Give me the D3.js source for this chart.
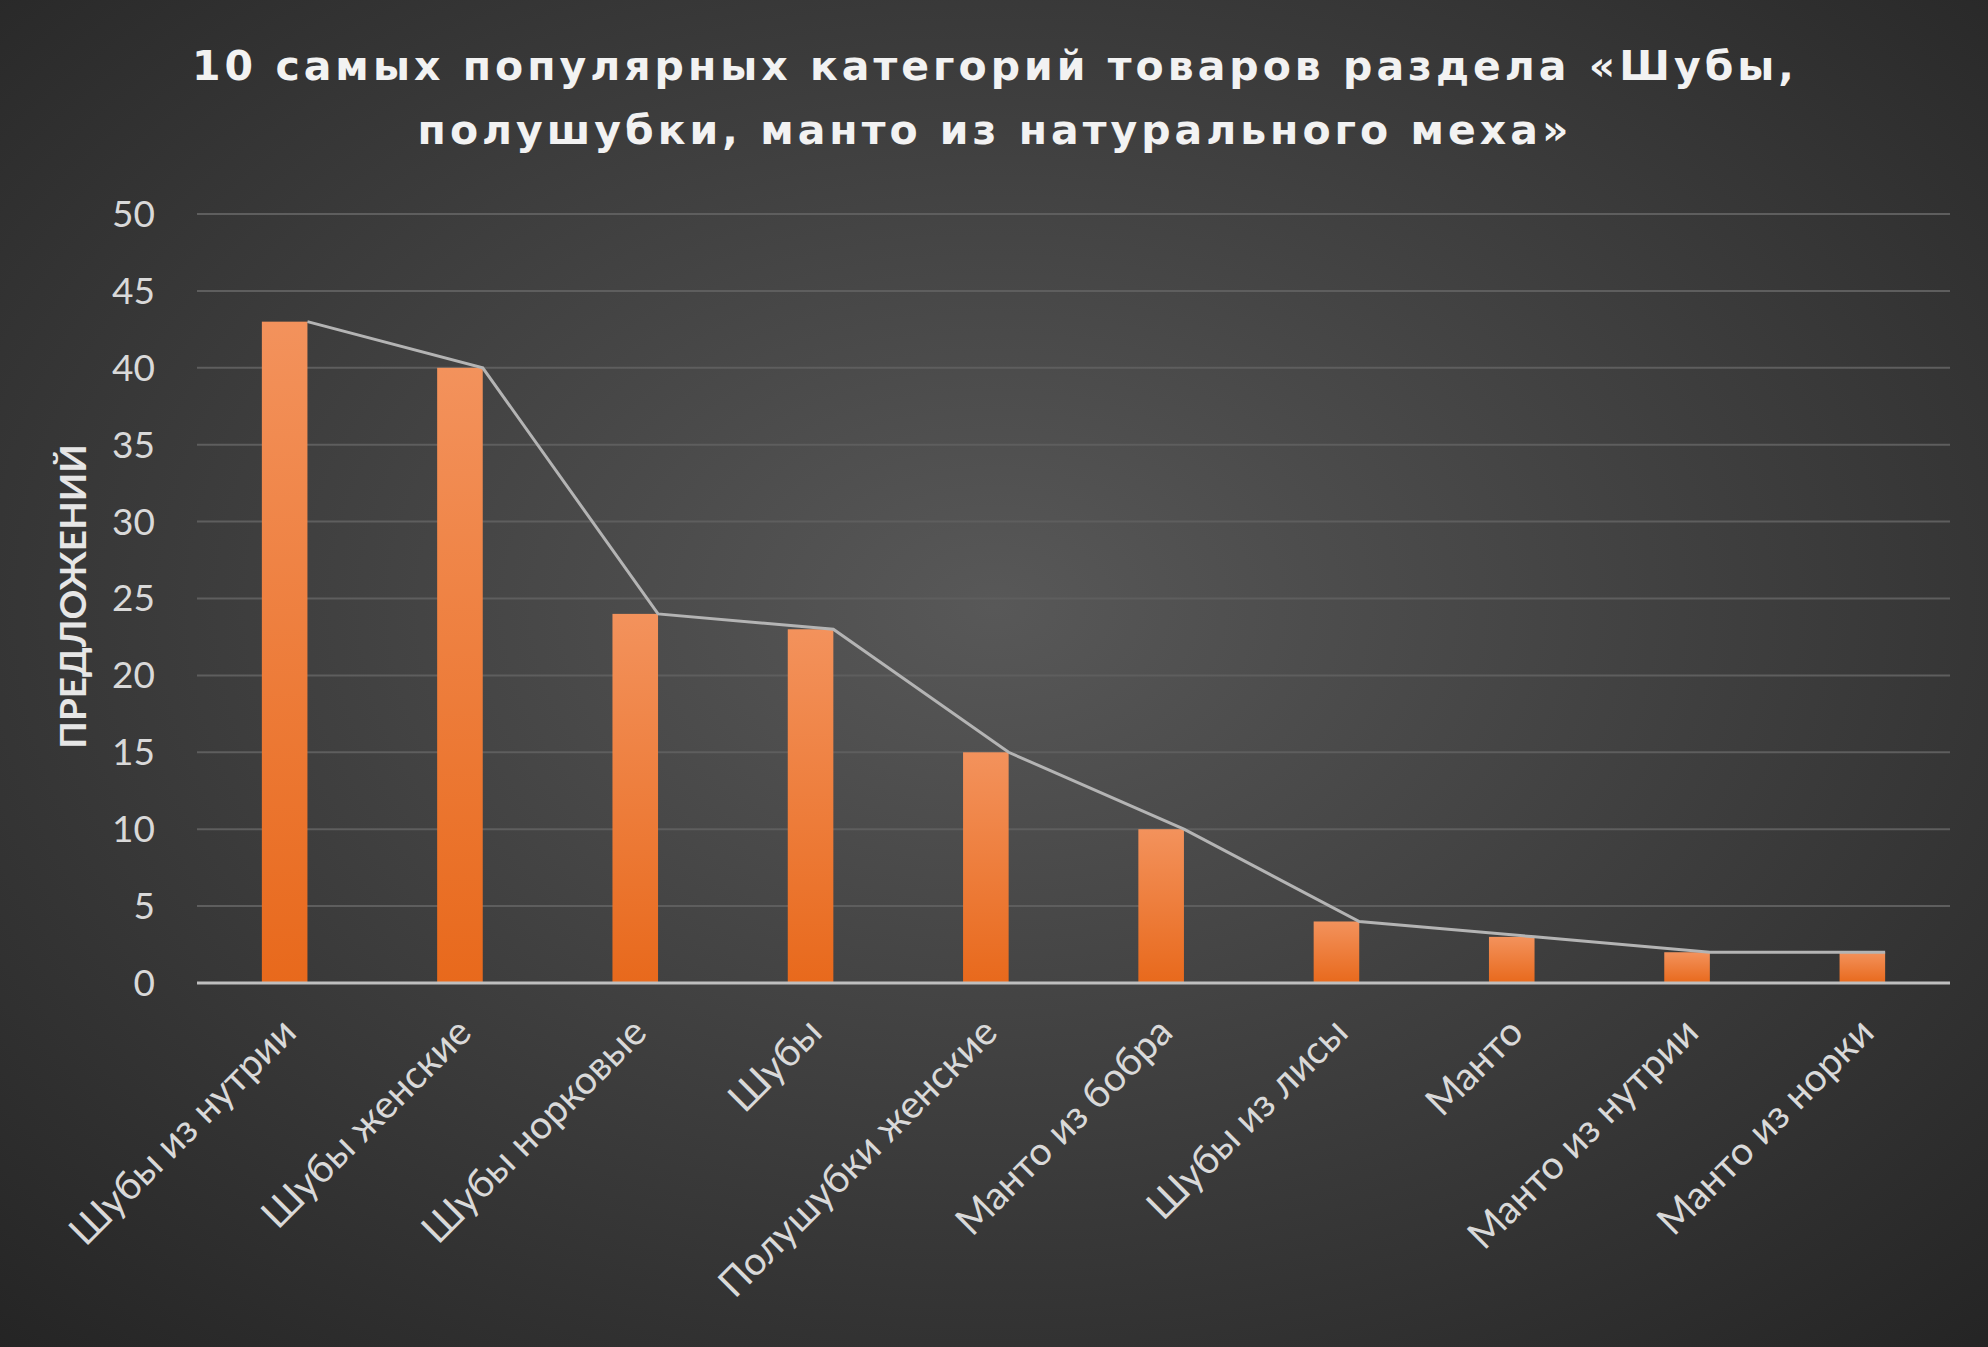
<!DOCTYPE html>
<html><head><meta charset="utf-8">
<script src="https://cdn.jsdelivr.net/npm/d3@7"></script>
<style>
html,body{margin:0;padding:0;background:#262626;}
</style></head>
<body><svg id="chart" width="1988" height="1347"></svg>
<script>
const categories = ["Шубы из нутрии", "Шубы женские", "Шубы норковые", "Шубы", "Полушубки женские",
  "Манто из бобра", "Шубы из лисы", "Манто", "Манто из нутрии", "Манто из норки"];
const offers = [43, 40, 24, 23, 15, 10, 4, 3, 2, 2];
const yTicks = [0, 5, 10, 15, 20, 25, 30, 35, 40, 45, 50];
const titleLines = ["10 самых популярных категорий товаров раздела «Шубы,", "полушубки, манто из натурального меха»"];

const svg = d3.select("#chart");
const width = 1988, height = 1347;
const margin = { top: 214, right: 38, bottom: 364, left: 197 };
const innerWidth = width - margin.left - margin.right;
const innerHeight = height - margin.top - margin.bottom;

const defs = svg.append("defs");
const bg = defs.append("radialGradient").attr("id", "bg").attr("cx", "50%").attr("cy", "45%").attr("r", "75%");
bg.append("stop").attr("offset", "0%").attr("stop-color", "#585858");
bg.append("stop").attr("offset", "100%").attr("stop-color", "#242424");
const barGrad = defs.append("linearGradient").attr("id", "barGrad").attr("x1", 0).attr("y1", 0).attr("x2", 0).attr("y2", 1);
barGrad.append("stop").attr("offset", "0%").attr("stop-color", "#f3925c");
barGrad.append("stop").attr("offset", "100%").attr("stop-color", "#e8691c");

svg.append("rect").attr("width", width).attr("height", height).attr("fill", "url(#bg)");

// Title
svg.append("g").selectAll("text").data(titleLines).enter().append("text")
  .attr("x", width / 2 + 1).attr("y", (d, i) => 80 + i * 64)
  .attr("text-anchor", "middle").attr("fill", "#f2f2f2")
  .attr("font-family", "DejaVu Sans").attr("font-weight", "bold")
  .attr("font-size", "41px").attr("letter-spacing", "4px")
  .text(d => d);

const x = d3.scaleBand().domain(categories).range([0, innerWidth]).paddingInner(0.74).paddingOuter(0.37);
const y = d3.scaleLinear().domain([0, 50]).range([innerHeight, 0]);

const g = svg.append("g").attr("transform", `translate(${margin.left},${margin.top})`);

// Grid
g.selectAll(".grid").data(yTicks.slice(1)).enter().append("line")
  .attr("x1", 0).attr("x2", innerWidth)
  .attr("y1", d => y(d)).attr("y2", d => y(d))
  .attr("stroke", "#5e5e5e").attr("stroke-width", 2);

// Y axis labels
g.selectAll(".ytick").data(yTicks).enter().append("text")
  .attr("x", -42).attr("y", d => y(d)).attr("dy", "0.35em")
  .attr("text-anchor", "end").attr("fill", "#d9d9d9")
  .attr("font-family", "Lato").attr("font-size", "37px")
  .text(d => d);

// Bars
g.selectAll(".bar").data(offers).enter().append("rect")
  .attr("x", (d, i) => x(categories[i]))
  .attr("y", d => y(d))
  .attr("width", x.bandwidth())
  .attr("height", d => innerHeight - y(d))
  .attr("fill", "url(#barGrad)");

// Baseline
g.append("line").attr("x1", 0).attr("x2", innerWidth)
  .attr("y1", y(0)).attr("y2", y(0))
  .attr("stroke", "#bfbfbf").attr("stroke-width", 3);

// Line over bars
const line = d3.line()
  .x((d, i) => x(categories[i]) + x.bandwidth())
  .y(d => y(d));
g.append("path").datum(offers)
  .attr("fill", "none").attr("stroke", "#b4b4b4").attr("stroke-width", 3)
  .attr("d", line);

// Category labels
g.selectAll(".xlab").data(categories).enter().append("text")
  .attr("transform", d => `translate(${x(d) + x.bandwidth() / 2 + 4},${innerHeight + 42}) rotate(-45)`)
  .attr("text-anchor", "end").attr("dy", "0.35em")
  .attr("fill", "#d9d9d9").attr("font-family", "Lato").attr("font-size", "39px")
  .text(d => d);

// Y axis title
svg.append("text")
  .attr("transform", `translate(86,${margin.top + innerHeight / 2 - 2}) rotate(-90)`)
  .attr("text-anchor", "middle").attr("fill", "#e6e6e6")
  .attr("font-family", "Lato").attr("font-weight", "bold").attr("font-size", "37px")
  .text("ПРЕДЛОЖЕНИЙ");
</script></body></html>
